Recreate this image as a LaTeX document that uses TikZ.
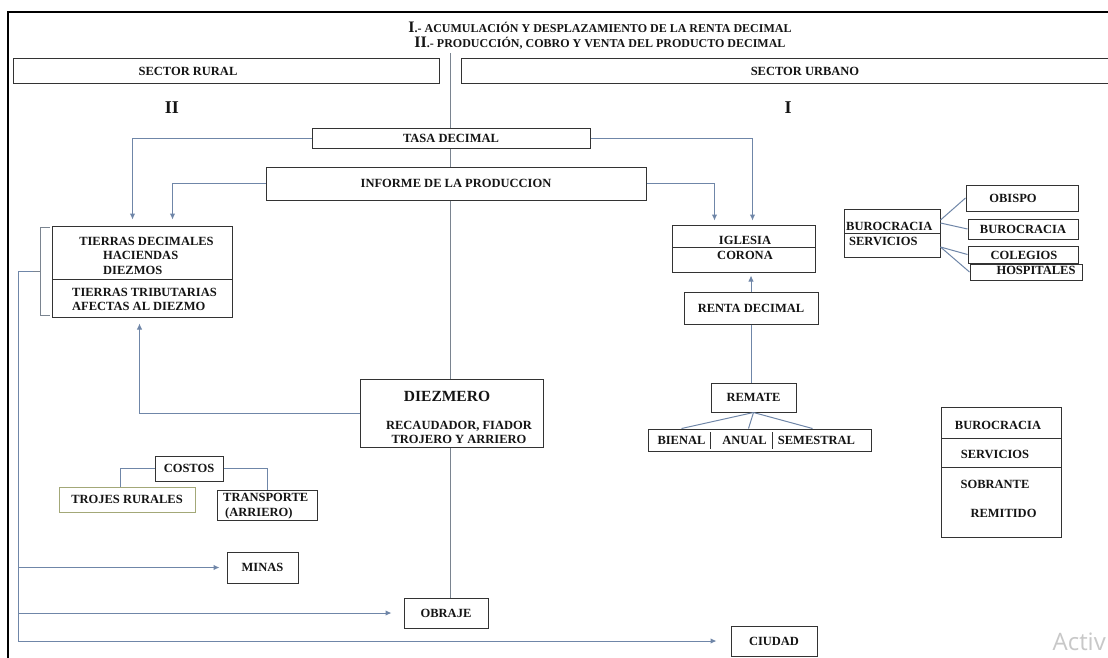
\documentclass[tikz,border=0pt]{standalone}
\usepackage{fontspec}
\setmainfont{Liberation Serif}
\setsansfont{Open Sans}
\usetikzlibrary{arrows.meta}
\definecolor{txt}{HTML}{141414}
\definecolor{boxc}{HTML}{333333}
\definecolor{connc}{HTML}{6F86A8}
\definecolor{trunkc}{HTML}{7A8490}
\definecolor{olivec}{HTML}{A3A878}
\definecolor{wmc}{HTML}{C8C8C8}
\tikzset{
  bx/.style={draw=boxc, line width=1pt, inner sep=0pt, text=txt,
    font=\bfseries\fontsize{12.5}{14}\selectfont},
  lbl/.style={inner sep=0pt, text=txt, font=\bfseries\fontsize{12.5}{14}\selectfont},
  conn/.style={draw=connc, line width=1pt},
  trunk/.style={draw=trunkc, line width=1pt},
  arr/.style={conn, -{Latex[length=6pt,width=5.5pt]}},
  divl/.style={draw=boxc, line width=1pt}
}
\begin{document}
\begin{tikzpicture}[x=1pt,y=-1pt]
\useasboundingbox (0,0) rectangle (1108,657);
\fill[white] (0,0) rectangle (1108,657);
% frame
\draw[line width=2.6pt, black] (1112,12) -- (8,12) -- (8,662);

% titles
\node[lbl, font=\bfseries\fontsize{12}{14}\selectfont] (t1) at (600,27) {{\fontsize{16}{16}\selectfont I}.- ACUMULACIÓN Y DESPLAZAMIENTO DE LA RENTA DECIMAL};
\node[lbl, font=\bfseries\fontsize{12}{14}\selectfont] (t2) at (600,43) {{\fontsize{16}{16}\selectfont II}.- PRODUCCIÓN, COBRO Y VENTA DEL PRODUCTO DECIMAL};

% sectors
\node[bx, minimum width=426pt, minimum height=25pt] (rural) at (226,70.5) {};
\node[lbl] (ruralt) at (188,71) {SECTOR RURAL};
\node[bx, minimum width=660pt, minimum height=25pt, anchor=west] (urbano) at (461,70.5) {};
\node[lbl] (urbanot) at (805,71) {SECTOR URBANO};
\node[lbl, font=\bfseries\fontsize{18}{18}\selectfont] (rII) at (172,108) {II};
\node[lbl, font=\bfseries\fontsize{18}{18}\selectfont] (rI) at (788,108) {I};

% central boxes
\node[bx, minimum width=278pt, minimum height=20pt] (tasa) at (451,138) {TASA DECIMAL};
\node[bx, minimum width=380pt, minimum height=33pt] (informe) at (456,183.5) {INFORME DE LA PRODUCCION};
\node[bx, minimum width=183pt, minimum height=68pt] (diezmero) at (451.5,413) {};
\node[lbl, font=\bfseries\fontsize{15.5}{16}\selectfont] (dzt) at (447,396) {DIEZMERO};
\node[lbl, align=center] (dzr) at (459,432) {RECAUDADOR, FIADOR\\TROJERO Y ARRIERO};
\node[bx, minimum width=84pt, minimum height=30pt] (obraje) at (446,613) {OBRAJE};

% trunk
\coordinate (top) at (450,53);
\draw[trunk] (top) -- (top |- tasa.north);
\draw[trunk] (top |- tasa.south) -- (top |- informe.north);
\draw[trunk] (top |- informe.south) -- (top |- diezmero.north);
\draw[trunk] (top |- diezmero.south) -- (top |- obraje.north);

% tierras
\node[bx, minimum width=180pt, minimum height=91pt] (tierras) at (142,271.5) {};
\draw[divl] (52,279) -- (232,279);
\node[lbl] (td1) at (146.5,241) {TIERRAS DECIMALES};
\node[lbl, anchor=west] (td2) at (103,255) {HACIENDAS};
\node[lbl, anchor=west] (td3) at (103,270) {DIEZMOS};
\node[lbl, anchor=west] (td4) at (72,292) {TIERRAS TRIBUTARIAS};
\node[lbl, anchor=west] (td5) at (72,306) {AFECTAS AL DIEZMO};
% bracket
\draw[draw=trunkc, line width=0.9pt] (50,227) -- (40,227) -- (40,315) -- (50,315);
\draw[draw=trunkc, line width=0.9pt] (40,271) -- (33,271);

% iglesia
\node[bx, minimum width=143pt, minimum height=47pt] (iglesia) at (743.5,248.5) {};
\draw[divl] (672,247) -- (815,247);
\node[lbl] (ig1) at (745,240) {IGLESIA};
\node[lbl] (ig2) at (745,255) {CORONA};
\node[bx, minimum width=134pt, minimum height=32pt] (renta) at (751,308) {RENTA DECIMAL};
\node[bx, minimum width=85pt, minimum height=29pt] (remate) at (753.5,397.5) {REMATE};
\node[bx, minimum width=223pt, minimum height=22pt] (per) at (759.5,440) {};
\draw[divl] (710,432) -- (710,449);
\draw[divl] (772,432) -- (772,449);
\node[lbl] (bienal) at (681.5,440) {BIENAL};
\node[lbl] (anual) at (744.5,440) {ANUAL};
\node[lbl] (semestral) at (816.5,440) {SEMESTRAL};

% top-right cluster
\node[bx, minimum width=96pt, minimum height=48pt] (bs) at (892,233) {};
\draw[divl] (844,233) -- (940,233);
\node[lbl, anchor=west] (bs1) at (846,226) {BUROCRACIA};
\node[lbl, anchor=west] (bs2) at (849,241) {SERVICIOS};
\node[bx, minimum width=112pt, minimum height=26pt] (obispo) at (1022,198) {};
\node[lbl] (obispot) at (1013,198) {OBISPO};
\node[bx, minimum width=110pt, minimum height=20pt] (bur2) at (1023,229) {BUROCRACIA};
\node[bx, minimum width=110pt, minimum height=17pt] (colegios) at (1023,254.5) {};
\node[lbl] (colegiost) at (1024,255) {COLEGIOS};
\node[bx, minimum width=112pt, minimum height=16pt] (hosp) at (1026,272) {};
\node[lbl] (hospt) at (1036,270) {HOSPITALES};
\draw[conn] ([yshift=13pt]bs.east) -- (obispo.west);
\draw[conn] ([yshift=10pt]bs.east) -- (bur2.west);
\draw[conn] ([yshift=-14pt]bs.east) -- (colegios.west);
\draw[conn] ([yshift=-14pt]bs.east) -- (hosp.west);

% right summary box
\node[bx, minimum width=120pt, minimum height=130pt] (burr) at (1001,472) {};
\draw[divl] (941,438) -- (1061,438);
\draw[divl] (941,467) -- (1061,467);
\node[lbl] (br1) at (998,425) {BUROCRACIA};
\node[lbl] (br2) at (995,454) {SERVICIOS};
\node[lbl] (br3) at (995,484) {SOBRANTE};
\node[lbl] (br4) at (1003.5,513) {REMITIDO};

% costos
\node[bx, minimum width=68pt, minimum height=25pt] (costos) at (189,468.5) {COSTOS};
\node[bx, draw=olivec, minimum width=136pt, minimum height=25pt] (trojes) at (127,499.5) {TROJES RURALES};
\node[bx, minimum width=100pt, minimum height=30pt] (transporte) at (267,505) {};
\node[lbl, anchor=west] (tr1) at (223,497) {TRANSPORTE};
\node[lbl, anchor=west] (tr2) at (225,513) {(ARRIERO)};
\draw[conn] (costos.west) -| ([xshift=62pt]trojes.north west);
\draw[conn] (costos.east) -| (transporte.north);

% bottom boxes
\node[bx, minimum width=71pt, minimum height=31pt] (minas) at (262.5,567.5) {MINAS};
\node[bx, minimum width=86pt, minimum height=30pt] (ciudad) at (774,641) {CIUDAD};

% arrows top
\draw[arr] (tasa.west) -| ([xshift=81pt,yshift=6pt]tierras.north west);
\draw[arr] (informe.west) -| ([xshift=121pt,yshift=6pt]tierras.north west);
\draw[arr] (tasa.east) -| ([xshift=81pt,yshift=4pt]iglesia.north west);
\draw[arr] (informe.east) -| ([xshift=43pt,yshift=4pt]iglesia.north west);
\draw[arr] (diezmero.west) -| ([xshift=88pt,yshift=-6pt]tierras.south west);
\draw[arr, shorten >=3pt] (renta.north) -- (renta.north |- iglesia.south);
\draw[conn] (renta.south) -- (renta.south |- remate.north);
\draw[conn] (remate.south) -- ([xshift=34pt]per.north west);
\draw[conn] (remate.south) -- ([xshift=101pt]per.north west);
\draw[conn] (remate.south) -- ([xshift=165pt]per.north west);

% left spine
\coordinate (bk) at (33,271);
\coordinate (spine) at (18,271);
\draw[conn] (bk) -- (spine);
\draw[arr] (spine) |- ([xshift=-14pt]ciudad.west);
\draw[arr] (spine |- minas.west) -- ([xshift=-7pt]minas.west);
\draw[arr] (spine |- obraje.west) -- ([xshift=-12pt]obraje.west);

% watermark
\node[anchor=east, inner sep=0pt, text=wmc, font=\sffamily\fontsize{24}{24}\selectfont] (wmk) at (1106,642) {Activ};
\end{tikzpicture}
\end{document}
